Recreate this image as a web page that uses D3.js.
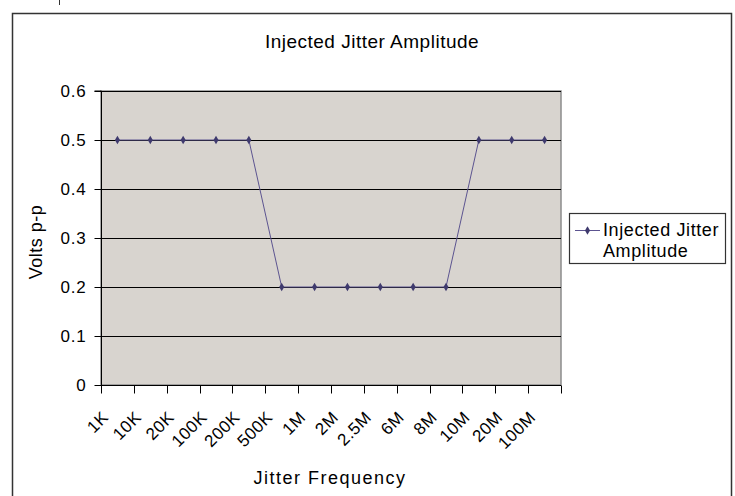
<!DOCTYPE html>
<html><head><meta charset="utf-8">
<script src="https://cdn.jsdelivr.net/npm/d3@7"></script>
<style>body{margin:0;background:#fff}svg{display:block}text{font-family:"Liberation Sans",Arial,sans-serif}</style>
</head><body>
<script>
const categories = ["1K","10K","20K","100K","200K","500K","1M","2M","2.5M","6M","8M","10M","20M","100M"];
const values = [0.5,0.5,0.5,0.5,0.5,0.2,0.2,0.2,0.2,0.2,0.2,0.5,0.5,0.5];
const yTicks = [0,0.1,0.2,0.3,0.4,0.5,0.6];
const seriesName = "Injected Jitter Amplitude";

const W=735,H=496;
const svg=d3.select("body").append("svg").attr("width",W).attr("height",H);
svg.append("rect").attr("x",12.5).attr("y",13.5).attr("width",719).attr("height",500)
  .attr("fill","#fff").attr("stroke","#333").attr("stroke-width",1.5);
svg.append("line").attr("x1",59.5).attr("x2",59.5).attr("y1",0).attr("y2",5).attr("stroke","#333");

const L=101,R=561,T=91,B=385;
const x=d3.scaleBand().domain(categories).range([L,R]);
const y=d3.scaleLinear().domain([0,0.6]).range([B,T]);

svg.append("rect").attr("x",L).attr("y",T).attr("width",R-L).attr("height",B-T)
  .attr("fill","#d8d4cf").attr("stroke","#8c8c8c").attr("stroke-width",1.5);

svg.append("g").selectAll("line").data(yTicks.filter(d=>d>0)).join("line")
  .attr("x1",L).attr("x2",R).attr("y1",d=>Math.round(y(d))+0.5).attr("y2",d=>Math.round(y(d))+0.5)
  .attr("stroke","#000").attr("stroke-width",1);

const ya=svg.append("g").attr("transform",`translate(${L+0.5},0)`)
  .call(d3.axisLeft(y).tickValues(yTicks).tickSize(7).tickPadding(8).tickFormat(d=>d===0?"0":d3.format(".1f")(d)));
ya.select(".domain").attr("stroke","#000").attr("d",`M-7,${T}H0V${B}`);
ya.selectAll(".tick line").attr("stroke","#000");
ya.selectAll("text").attr("font-size",17).attr("fill","#000").attr("letter-spacing",0.8)
  .attr("font-family","Liberation Sans, Arial, sans-serif");

const xa=svg.append("g").attr("transform",`translate(0,${B+0.5})`);
xa.append("line").attr("x1",L).attr("x2",R).attr("stroke","#000");
const bounds=d3.range(categories.length+1).map(i=>L+i*x.bandwidth());
xa.selectAll(".tk").data(bounds).join("line").attr("class","tk")
  .attr("x1",d=>Math.round(d)+0.5).attr("x2",d=>Math.round(d)+0.5).attr("y1",0).attr("y2",8).attr("stroke","#000");
xa.selectAll("text").data(categories).join("text")
  .attr("transform",d=>`translate(${x(d)+x.bandwidth()/2-8},33) rotate(-45)`)
  .attr("text-anchor","end").attr("font-size",17).attr("letter-spacing",0.5).attr("fill","#000").text(d=>d);

const line=d3.line().x((d,i)=>x(categories[i])+x.bandwidth()/2).y(d=>y(d));
svg.append("path").datum(values).attr("d",line).attr("fill","none").attr("stroke","#5c5490").attr("stroke-width",1);
const sym=d3.symbol().type(d3.symbolDiamond).size(22);
svg.append("g").selectAll("path").data(values).join("path")
  .attr("transform",(d,i)=>`translate(${x(categories[i])+x.bandwidth()/2},${y(d)})`).attr("d",sym).attr("fill","#3f3a6e");

svg.append("text").attr("x",372).attr("y",48).attr("text-anchor","middle").attr("font-size",19).attr("letter-spacing",0.5).text("Injected Jitter Amplitude");
svg.append("text").attr("x",330).attr("y",484).attr("text-anchor","middle").attr("font-size",18).attr("letter-spacing",1.5).text("Jitter Frequency");
svg.append("text").attr("transform",`translate(42,242) rotate(-90)`).attr("text-anchor","middle").attr("font-size",18).attr("letter-spacing",0.5).text("Volts p-p");

const lg=svg.append("g");
lg.append("rect").attr("x",569.5).attr("y",213.5).attr("width",156).attr("height",50).attr("fill","#fff").attr("stroke","#333").attr("stroke-width",1.2);
lg.append("line").attr("x1",575).attr("x2",600).attr("y1",230.5).attr("y2",230.5).attr("stroke","#5c5490");
lg.append("path").attr("transform","translate(587.5,230.5)").attr("d",sym).attr("fill","#3f3a6e");
lg.append("text").attr("x",603).attr("y",236).attr("font-size",18).attr("letter-spacing",0.6).text(seriesName.replace(" Amplitude",""));
lg.append("text").attr("x",603).attr("y",257).attr("font-size",18).attr("letter-spacing",0.6).text("Amplitude");
</script>
</body></html>
